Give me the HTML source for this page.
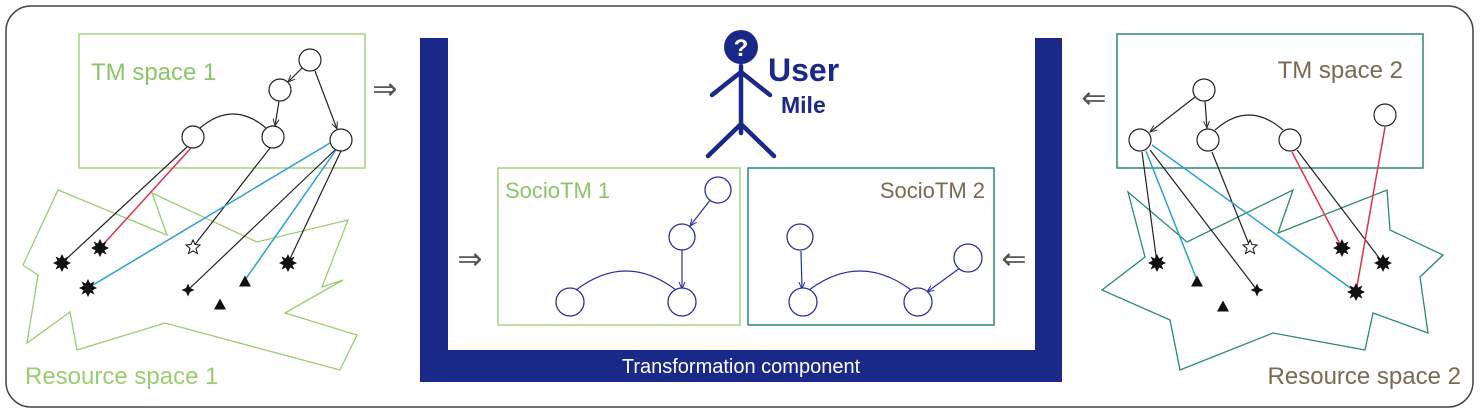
<!DOCTYPE html>
<html><head><meta charset="utf-8"><style>
html,body{margin:0;padding:0;background:#fff;width:1480px;height:414px;overflow:hidden}
text{font-family:"Liberation Sans",sans-serif}
</style></head><body>
<svg width="1480" height="414" viewBox="0 0 1480 414" xmlns="http://www.w3.org/2000/svg">
<defs>
<marker id="a" markerWidth="8" markerHeight="8" refX="7" refY="4" orient="auto" markerUnits="userSpaceOnUse"><path d="M0,1 L7,4 L0,7" fill="none" stroke="#333" stroke-width="1"/></marker>
<marker id="b" markerWidth="8" markerHeight="8" refX="7" refY="4" orient="auto" markerUnits="userSpaceOnUse"><path d="M0,1 L7,4 L0,7" fill="none" stroke="#2a2f9a" stroke-width="1"/></marker>
<g id="st"><polygon points="0,-9 2.2,-4.5 6.5,-6.5 4.5,-2.2 9,0 4.5,2.2 6.5,6.5 2.2,4.5 0,9 -2.2,4.5 -6.5,6.5 -4.5,2.2 -9,0 -4.5,-2.2 -6.5,-6.5 -2.2,-4.5" fill="#111"/></g>
<g id="sm"><polygon points="0,-6.5 2,-2 6.5,0 2,2 0,6.5 -2,2 -6.5,0 -2,-2" fill="#111"/></g>
<g id="ws"><polygon points="0,-7 2,-2.5 7,-2 3,1.5 4.5,6.5 0,4 -4.5,6.5 -3,1.5 -7,-2 -2,-2.5" fill="#fff" stroke="#111" stroke-width="1"/></g>
<g id="tr"><polygon points="0,-6.5 6,4.5 -6,4.5" fill="#111"/></g>
</defs>
<rect x="6" y="6" width="1467" height="401" rx="25" fill="#fff" stroke="#444" stroke-width="1.5"/>

<!-- Left -->
<polygon points="58,190 167,235 152,193 257,242 348,220 322,287 343,280 285,313 357,335 340,370 165,323 77,350 70,312 27,343 38,275 23,265" fill="none" stroke="#9ccc70" stroke-width="1.3"/>
<rect x="79" y="34" width="286" height="134" fill="none" stroke="#a8d080" stroke-width="1.5"/>
<text x="91" y="80" font-size="24" fill="#8dc46a">TM space 1</text>
<g stroke="#222" stroke-width="1.2" fill="none">
<line x1="302" y1="68" x2="288" y2="82" marker-end="url(#a)"/>
<line x1="279" y1="101" x2="275" y2="126" marker-end="url(#a)"/>
<path d="M200,128 Q233,100 266,128"/>
<line x1="315" y1="71" x2="337" y2="129" marker-end="url(#a)"/>
<line x1="187" y1="147" x2="62" y2="263"/>
<line x1="270" y1="148" x2="193" y2="247"/>
<line x1="335" y1="150" x2="188" y2="290"/>
<line x1="341" y1="151" x2="288" y2="263"/>
</g>
<line x1="191" y1="148" x2="100" y2="248" stroke="#e03050" stroke-width="1.5"/>
<line x1="330" y1="143" x2="88" y2="288" stroke="#2aa0d0" stroke-width="1.5"/>
<line x1="336" y1="150" x2="245" y2="280" stroke="#2aa0d0" stroke-width="1.5"/>
<g fill="#fff" stroke="#222" stroke-width="1.2">
<circle cx="310" cy="60" r="11"/><circle cx="280" cy="90" r="11"/><circle cx="193" cy="137" r="11"/><circle cx="273" cy="137" r="11"/><circle cx="341" cy="140" r="11"/>
</g>
<use href="#st" x="62" y="263"/><use href="#st" x="100" y="248"/><use href="#st" x="88" y="288"/><use href="#st" x="288" y="263"/>
<use href="#ws" x="193" y="247"/><use href="#sm" x="188" y="290"/><use href="#tr" x="245" y="282"/><use href="#tr" x="220" y="305"/>
<text x="25" y="384" font-size="24" fill="#9ccc70">Resource space 1</text>
<text x="385" y="99" font-size="30" fill="#555" text-anchor="middle">⇒</text>

<!-- Center -->
<path d="M420,38 H448 V350 H1035 V38 H1062 V382 H420 Z" fill="#1a2888"/>
<text x="741" y="373" font-size="20" fill="#fff" text-anchor="middle">Transformation component</text>
<circle cx="741" cy="47" r="17" fill="#1a2888"/>
<text x="741" y="56" font-size="24" font-weight="bold" fill="#fff" text-anchor="middle">?</text>
<g stroke="#1a2888" stroke-width="4.5" fill="none" stroke-linecap="round">
<line x1="741" y1="66" x2="741" y2="133"/>
<polyline points="712,95 741,72 770,95"/>
<polyline points="708,156 741,124 774,156"/>
</g>
<text x="768" y="81" font-size="32" font-weight="bold" fill="#1a2888">User</text>
<text x="781" y="113" font-size="23" font-weight="bold" fill="#1a2888">Mile</text>
<rect x="498" y="168" width="242" height="157" fill="#fff" stroke="#a8d080" stroke-width="1.5"/>
<rect x="748" y="168" width="246" height="157" fill="#fff" stroke="#2a8a70" stroke-width="1.5"/>
<text x="505" y="198" font-size="22" fill="#8dc46a">SocioTM 1</text>
<text x="985" y="198" font-size="22" fill="#7a6a50" text-anchor="end">SocioTM 2</text>
<g stroke="#2a2f9a" stroke-width="1.2" fill="none">
<line x1="711" y1="199" x2="690" y2="226" marker-end="url(#b)"/>
<line x1="682" y1="250" x2="682" y2="289" marker-end="url(#b)"/>
<path d="M576,290 Q626,252 676,290"/>
<line x1="801" y1="251" x2="802" y2="289" marker-end="url(#b)"/>
<path d="M809,290 Q860,252 911,290"/>
<line x1="960" y1="268" x2="927" y2="292" marker-end="url(#b)"/>
</g>
<g fill="#fff" stroke="#2a2f9a" stroke-width="1.3">
<circle cx="718" cy="190" r="13"/><circle cx="682" cy="237" r="13"/><circle cx="570" cy="302" r="14"/><circle cx="682" cy="302" r="14"/>
<circle cx="800" cy="237" r="13"/><circle cx="968" cy="258" r="14"/><circle cx="803" cy="302" r="14"/><circle cx="918" cy="302" r="14"/>
</g>
<text x="470" y="269" font-size="30" fill="#555" text-anchor="middle">⇒</text>
<text x="1014" y="269" font-size="30" fill="#555" text-anchor="middle">⇐</text>
<text x="1094" y="108" font-size="30" fill="#555" text-anchor="middle">⇐</text>

<!-- Right -->
<polygon points="1128,192 1187,242 1293,190 1278,233 1387,190 1390,230 1443,255 1420,277 1428,333 1373,313 1365,350 1273,333 1180,370 1170,320 1102,290 1145,257" fill="none" stroke="#2a8a70" stroke-width="1.3"/>
<rect x="1117" y="34" width="306" height="134" fill="none" stroke="#2a8a70" stroke-width="1.5"/>
<text x="1403" y="78" font-size="24" fill="#7a6a50" text-anchor="end">TM space 2</text>
<g stroke="#222" stroke-width="1.2" fill="none">
<line x1="1195" y1="97" x2="1150" y2="132" marker-end="url(#a)"/>
<line x1="1205" y1="101" x2="1207" y2="128" marker-end="url(#a)"/>
<path d="M1215,130 Q1249,100 1283,130"/>
<line x1="1142" y1="152" x2="1157" y2="263"/>
<line x1="1150" y1="150" x2="1257" y2="290"/>
<line x1="1212" y1="152" x2="1250" y2="247"/>
<line x1="1297" y1="150" x2="1383" y2="263"/>
</g>
<line x1="1146" y1="151" x2="1197" y2="280" stroke="#2aa0d0" stroke-width="1.5"/>
<line x1="1152" y1="145" x2="1356" y2="292" stroke="#2aa0d0" stroke-width="1.5"/>
<line x1="1292" y1="152" x2="1342" y2="248" stroke="#e03050" stroke-width="1.5"/>
<line x1="1385" y1="127" x2="1356" y2="292" stroke="#e03050" stroke-width="1.5"/>
<g fill="#fff" stroke="#222" stroke-width="1.2">
<circle cx="1204" cy="90" r="11"/><circle cx="1140" cy="140" r="11"/><circle cx="1208" cy="140" r="11"/><circle cx="1290" cy="140" r="11"/><circle cx="1385" cy="115" r="11"/>
</g>
<use href="#st" x="1157" y="263"/><use href="#st" x="1342" y="248"/><use href="#st" x="1383" y="263"/><use href="#st" x="1356" y="292"/>
<use href="#ws" x="1250" y="247"/><use href="#sm" x="1257" y="290"/><use href="#tr" x="1197" y="282"/><use href="#tr" x="1223" y="307"/>
<text x="1461" y="384" font-size="24" fill="#7a6a50" text-anchor="end">Resource space 2</text>
</svg>
</body></html>
